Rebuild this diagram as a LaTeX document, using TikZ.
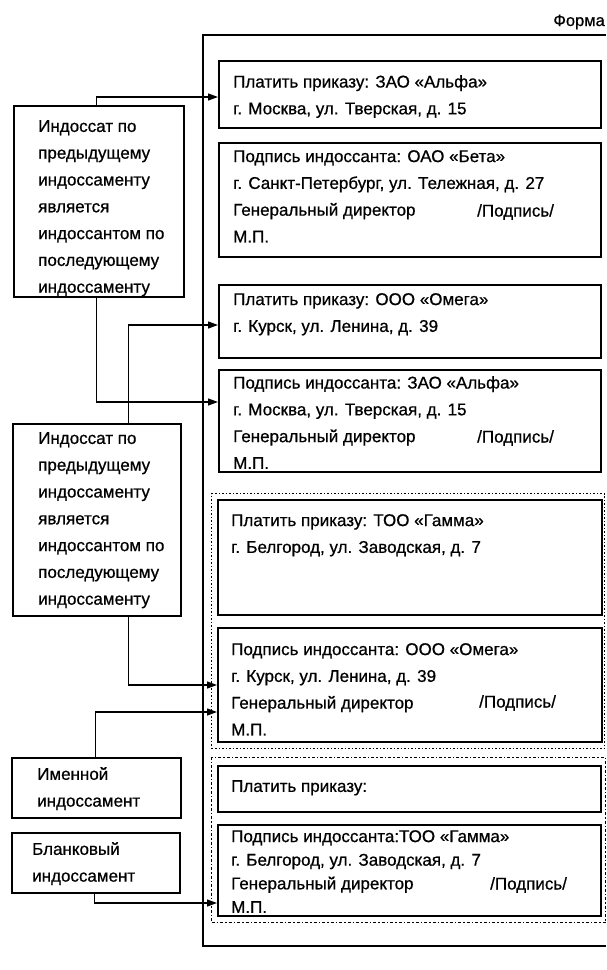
\documentclass[tikz,border=0pt]{standalone}
\usepackage{fontspec}
\setmainfont{Liberation Sans}[FakeBold=0.7]
\usetikzlibrary{arrows.meta,calc}
\begin{document}
\begin{tikzpicture}[x=1pt,y=-1pt,
  box/.style={draw,line width=1.5pt,inner sep=0pt,anchor=north west},
  txt/.style={anchor=north west,inner sep=0pt,align=left,font=\fontsize{17}{26.8}\selectfont},
  txtb/.style={anchor=north west,inner sep=0pt,align=left,font=\fontsize{17}{23.6}\selectfont},
  arr/.style={line width=1.3pt,-{Triangle[length=10pt,width=7pt]}},
  frame/.style={line width=1.5pt}]
\useasboundingbox (0,0) rectangle (606,970);
% outer form frame (right edge off the picture)
\draw[frame] (606,35) -- (203,35) -- (203,946) -- (606,946);
\node[anchor=base east,inner sep=0pt,font=\fontsize{16.5}{18}\selectfont] (forma) at (605,26) {Форма};
% grouping boxes
\node[box,dotted,line width=1.4pt,minimum width=393,minimum height=255] (grpG) at (211,493) {};
\node[box,dash dot,line width=1.4pt,minimum width=394,minimum height=165] (grpB) at (211,757) {};
% right boxes
\node[box,minimum width=382,minimum height=67] (b1) at (218,60) {};
\node[box,minimum width=382,minimum height=114] (b2) at (218,142) {};
\node[box,minimum width=382,minimum height=73] (b3) at (218,284) {};
\node[box,minimum width=382,minimum height=102] (b4) at (218,369) {};
\node[box,minimum width=384,minimum height=115] (b5) at (217,499) {};
\node[box,minimum width=384,minimum height=114] (b6) at (217,627) {};
\node[box,minimum width=383,minimum height=46] (b7) at (217,765) {};
\node[box,minimum width=383,minimum height=91] (b8) at (217,824) {};
% texts
\node[txt] (t1) at (233,75) {Платить приказу: ЗАО «Альфа»\\г. Москва, ул. Тверская, д. 15};
\node[txt] (t2) at (233,150) {Подпись индоссанта: ОАО «Бета»\\г. Санкт-Петербург, ул. Тележная, д. 27\\Генеральный директор\\М.П.};
\node[txt] (t2s) at (477,204) {/Подпись/};
\node[txt] (t3) at (233,293) {Платить приказу: ООО «Омега»\\г. Курск, ул. Ленина, д. 39};
\node[txt] (t4) at (233,376) {Подпись индоссанта: ЗАО «Альфа»\\г. Москва, ул. Тверская, д. 15\\Генеральный директор\\М.П.};
\node[txt] (t4s) at (477,430) {/Подпись/};
\node[txt] (t5) at (231,514) {Платить приказу: ТОО «Гамма»\\г. Белгород, ул. Заводская, д. 7};
\node[txt] (t6) at (231,643) {Подпись индоссанта: ООО «Омега»\\г. Курск, ул. Ленина, д. 39\\Генеральный директор\\М.П.};
\node[txt] (t6s) at (479,695) {/Подпись/};
\node[txt] (t7) at (231,780) {Платить приказу:};
\node[txtb] (t8) at (231,830) {Подпись индоссанта:ТОО «Гамма»\\г. Белгород, ул. Заводская, д. 7\\Генеральный директор\\М.П.};
\node[txt] (t8s) at (490,877) {/Подпись/};
% left boxes
\node[box,minimum width=170,minimum height=191] (L1) at (13,105) {};
\node[txt] (l1t) at (38,120) {Индоссат по\\предыдущему\\индоссаменту\\является\\индоссантом по\\последующему\\индоссаменту};
\node[box,minimum width=168,minimum height=192] (L2) at (12,423) {};
\node[txt] (l2t) at (38,432) {Индоссат по\\предыдущему\\индоссаменту\\является\\индоссантом по\\последующему\\индоссаменту};
\node[box,minimum width=169,minimum height=60] (L3) at (11,757) {};
\node[txt] (l3t) at (37,767) {Именной\\индоссамент};
\node[box,minimum width=168,minimum height=60] (L4) at (11,832) {};
\node[txt] (l4t) at (32,842) {Бланковый\\индоссамент};
% connectors
\draw[arr] ([xshift=-2pt]L1.north) |- ($(b1.north west)+(0,37)$);
\draw[arr] ([xshift=-2pt]L1.south) |- ($(b4.north west)+(0,33)$);
\draw[arr] ([xshift=32pt]L2.north) |- ($(b3.north west)+(0,41)$);
\draw[arr] ([xshift=32pt]L2.south) |- ($(b6.north west)+(0,58)$);
\draw[arr] ([xshift=-0.5pt]L3.north) |- ($(b6.north west)+(0,85)$);
\draw[arr] ([xshift=-1pt]L4.south) |- ($(b8.north west)+(0,79)$);
\end{tikzpicture}
\end{document}
